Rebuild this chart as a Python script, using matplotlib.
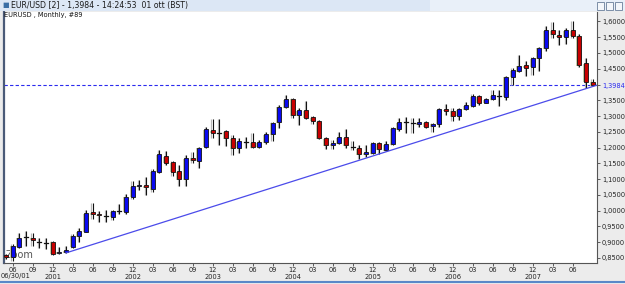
import matplotlib
matplotlib.use("Agg")
import matplotlib.pyplot as plt
from matplotlib.patches import Rectangle
from matplotlib.lines import Line2D
import numpy as np

# ---- data ----
opens = [0.858, 0.852, 0.886, 0.914, 0.914, 0.902, 0.900, 0.902, 0.865, 0.869,
         0.886, 0.920, 0.933, 0.996, 0.988, 0.984, 0.981, 0.998, 0.997, 1.044,
         1.077, 1.081, 1.069, 1.124, 1.173, 1.154, 1.126, 1.099, 1.168, 1.158,
         1.203, 1.256, 1.248, 1.252, 1.229, 1.200, 1.219, 1.217, 1.203, 1.218,
         1.242, 1.281, 1.328, 1.355, 1.303, 1.319, 1.296, 1.284, 1.229, 1.208,
         1.214, 1.233, 1.202, 1.198, 1.180, 1.182, 1.214, 1.192, 1.210, 1.259,
         1.281, 1.278, 1.275, 1.281, 1.268, 1.276, 1.322, 1.317, 1.301, 1.321,
         1.333, 1.364, 1.342, 1.353, 1.365, 1.361, 1.425, 1.443, 1.462, 1.456,
         1.483, 1.515, 1.573, 1.557, 1.552, 1.573, 1.555, 1.467, 1.409]
highs = [0.862, 0.893, 0.930, 0.937, 0.928, 0.914, 0.912, 0.905, 0.884, 0.888,
         0.925, 0.946, 1.002, 1.023, 0.999, 1.002, 1.003, 1.020, 1.053, 1.094,
         1.097, 1.108, 1.131, 1.192, 1.190, 1.157, 1.145, 1.177, 1.187, 1.203,
         1.266, 1.290, 1.290, 1.256, 1.240, 1.229, 1.235, 1.245, 1.224, 1.248,
         1.281, 1.335, 1.367, 1.357, 1.325, 1.348, 1.300, 1.286, 1.235, 1.224,
         1.248, 1.259, 1.221, 1.208, 1.208, 1.217, 1.217, 1.221, 1.266, 1.293,
         1.298, 1.293, 1.293, 1.284, 1.279, 1.325, 1.337, 1.325, 1.324, 1.344,
         1.370, 1.367, 1.356, 1.383, 1.383, 1.427, 1.451, 1.493, 1.474, 1.486,
         1.520, 1.585, 1.599, 1.573, 1.579, 1.601, 1.559, 1.483, 1.416]
lows = [0.846, 0.841, 0.881, 0.888, 0.888, 0.881, 0.879, 0.860, 0.863, 0.866,
        0.881, 0.902, 0.933, 0.974, 0.965, 0.963, 0.970, 0.988, 0.988, 1.037,
        1.065, 1.050, 1.058, 1.121, 1.145, 1.111, 1.079, 1.079, 1.152, 1.136,
        1.198, 1.232, 1.208, 1.206, 1.176, 1.182, 1.198, 1.200, 1.200, 1.210,
        1.221, 1.263, 1.326, 1.293, 1.272, 1.290, 1.274, 1.226, 1.195, 1.195,
        1.210, 1.198, 1.192, 1.164, 1.169, 1.180, 1.180, 1.190, 1.208, 1.253,
        1.245, 1.245, 1.266, 1.261, 1.248, 1.265, 1.303, 1.284, 1.287, 1.318,
        1.330, 1.335, 1.340, 1.350, 1.333, 1.351, 1.398, 1.439, 1.427, 1.430,
        1.443, 1.507, 1.546, 1.525, 1.527, 1.548, 1.455, 1.388, 1.394]
closes = [0.852, 0.889, 0.914, 0.915, 0.908, 0.901, 0.899, 0.864, 0.870, 0.875,
          0.921, 0.935, 0.992, 0.989, 0.985, 0.983, 0.999, 0.999, 1.044, 1.078,
          1.080, 1.074, 1.126, 1.179, 1.152, 1.124, 1.099, 1.166, 1.161, 1.200,
          1.258, 1.247, 1.247, 1.229, 1.198, 1.221, 1.218, 1.202, 1.218, 1.242,
          1.279, 1.330, 1.353, 1.303, 1.319, 1.295, 1.285, 1.229, 1.208, 1.214,
          1.233, 1.207, 1.201, 1.180, 1.185, 1.214, 1.195, 1.210, 1.261, 1.280,
          1.280, 1.277, 1.281, 1.266, 1.276, 1.322, 1.317, 1.300, 1.322, 1.335,
          1.364, 1.342, 1.353, 1.367, 1.364, 1.425, 1.446, 1.460, 1.453, 1.483,
          1.517, 1.573, 1.559, 1.552, 1.573, 1.555, 1.462, 1.409, 1.3984]

last_price = 1.3984
trend_index = [9, 88.65]
trend_value = [0.866, 1.398]

month_labels = ["06", "09", "12", "03"]
year_labels = ["2001", "2002", "2003", "2004", "2005", "2006", "2007"]
first_date_label = "06/30/01"
y_ticks = [0.85, 0.90, 0.95, 1.00, 1.05, 1.10, 1.15, 1.20, 1.25, 1.30, 1.35,
           1.45, 1.50, 1.55, 1.60]

title_text = "EUR/USD [2] - 1,3984 - 14:24:53  01 ott (BST)"
sub_text = "EURUSD , Monthly, #89"

# ---- figure ----
W, H = 625, 284
fig = plt.figure(figsize=(W / 100, H / 100), dpi=100)
fig.patch.set_facecolor("#ECECEC")

def fx(px):
    return px / W

def fy(py):
    return 1 - py / H

# title bar
fig.patches.append(Rectangle((0, fy(11)), 1, 11 / H, transform=fig.transFigure,
                             facecolor="#DCE7F5", edgecolor="none", zorder=0))
fig.patches.append(Rectangle((fx(430), fy(11)), fx(195), 11 / H, transform=fig.transFigure,
                             facecolor="#E9F0F9", edgecolor="none", zorder=0))
fig.text(fx(2), fy(5.5), "\u25a0", fontsize=5, color="#3A6EA5", va="center", ha="left")
fig.text(fx(11), fy(5.5), title_text, fontsize=5.6, color="#1A1A1A", va="center", ha="left")
# window buttons
for bx in [597, 606, 615]:
    fig.patches.append(Rectangle((fx(bx), fy(10)), fx(7), 8 / H, transform=fig.transFigure,
                                 facecolor="#F4F7FB", edgecolor="#6A7F9A", lw=0.6, zorder=1))
# bottom blue line
fig.add_artist(Line2D([0, 1], [fy(282), fy(282)], transform=fig.transFigure,
                      color="#5A88C8", lw=1.5))

# ---- axes ----
left_px, right_px, top_px, bot_px = 4, 597, 12, 263
ax = fig.add_axes([fx(left_px), fy(bot_px), fx(right_px - left_px), (bot_px - top_px) / H])
ax.set_facecolor("white")

n = len(opens)
idx = np.arange(n)
ax.set_xlim(-0.3, 88.65)
ax.set_ylim(0.834, 1.630)

bw = 0.62
for i in idx:
    o, h, l, c = opens[i], highs[i], lows[i], closes[i]
    ax.plot([i - 0.18, i - 0.18], [l, h], color="#B8B8B8", lw=0.9, zorder=2,
            solid_capstyle="butt")
    ax.plot([i, i], [l, h], color="#111111", lw=0.8, zorder=3, solid_capstyle="butt")
    if abs(c - o) < 0.0025:
        ax.plot([i - bw / 2, i + bw / 2], [c, c], color="#111111", lw=0.9, zorder=4)
        continue
    col = "#0A0AF0" if c > o else "#C80000"
    lo, hi = min(o, c), max(o, c)
    ax.add_patch(Rectangle((i - bw / 2 - 0.15, lo - 0.002), bw, hi - lo, facecolor="#C8C8A8",
                           edgecolor="none", zorder=3))
    ax.add_patch(Rectangle((i - bw / 2, lo), bw, hi - lo, facecolor=col,
                           edgecolor="#111111", lw=0.6, zorder=4))

# trend line and last price line
ax.plot(trend_index, trend_value, color="#4B4BEA", lw=0.9, zorder=5)
ax.axhline(last_price, color="#2B2BEE", lw=0.8, ls=(0, (3, 2)), zorder=1)

# Zoom watermark text
ax.text(0.0, 0.858, "Zoom", fontsize=7, color="#555555", ha="left", va="center", zorder=1)

# y axis on right
ax.yaxis.tick_right()
yvals = y_ticks + [last_price]
ax.set_yticks(yvals)
ax.set_yticklabels([f"{v:.4f}".replace(".", ",") for v in yvals], fontsize=4.8)
ax.tick_params(axis="y", length=2.5, width=0.6, pad=1, color="#444444")
for lab, v in zip(ax.get_yticklabels(), yvals):
    lab.set_color("#2B2BEE" if v == last_price else "#222222")

# x axis ticks (every 3 months)
xt = list(range(1, n - 3, 3))
xl = []
year_iter = iter(year_labels)
for k, t in enumerate(xt):
    m = month_labels[k % 4]
    if m == "12":
        xl.append(m + "\n" + next(year_iter, ""))
    else:
        xl.append(m)
ax.set_xticks(xt)
ax.set_xticklabels(xl, fontsize=4.8, linespacing=1.25, va="top")
ax.tick_params(axis="x", length=2.0, width=0.6, pad=0.8, color="#444444")
for lab in ax.get_xticklabels():
    lab.set_color("#222222")
fig.text(fx(0.5), fy(276.0), first_date_label, fontsize=4.8, color="#222222",
         ha="left", va="center")

ax.spines["top"].set_visible(False)
ax.spines["left"].set_color("#4A5A78")
ax.spines["left"].set_linewidth(1.6)
ax.spines["bottom"].set_color("#555555")
ax.spines["right"].set_color("#555555")
ax.spines["bottom"].set_linewidth(0.8)
ax.spines["right"].set_linewidth(0.8)

ax.text(0.0, 1.0, sub_text, transform=ax.transAxes, fontsize=4.8, color="#111111",
        ha="left", va="top")

fig.savefig("out.png", dpi=100, facecolor=fig.get_facecolor())
